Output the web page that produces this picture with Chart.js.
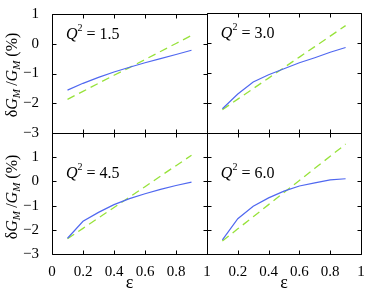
<!DOCTYPE html>
<html>
<head>
<meta charset="utf-8">
<script src="https://cdn.jsdelivr.net/npm/chart.js@4.4.1/dist/chart.umd.min.js"></script>
<style>
  body { margin: 0; background: #fff; }
  #wrap { position: relative; width: 374px; height: 294px; overflow: hidden; }
  #wrap canvas { position: absolute; left: 0; top: 0; }
  .ytitle {
    position: absolute; left: 12px; width: 130px; height: 20px; margin-left: -65px; margin-top: -10px;
    transform: rotate(-90deg); text-align: center; white-space: nowrap;
    font: 16px "Liberation Serif", serif; line-height: 20px; color: #000;
  }
  .ytitle sub { font-size: 11px; font-style: italic; vertical-align: -3px; line-height: 0; }
</style>
</head>
<body>
<div id="wrap">
  <canvas id="c1" width="374" height="294"></canvas>
  <canvas id="c2" width="374" height="294"></canvas>
  <canvas id="c3" width="374" height="294"></canvas>
  <canvas id="c4" width="374" height="294"></canvas>
  <div class="ytitle" style="top:75px">δ<i>G</i><sub>M</sub>&thinsp;/<i>G</i><sub>M</sub> (%)</div>
  <div class="ytitle" style="top:197px">δ<i>G</i><sub>M</sub>&thinsp;/<i>G</i><sub>M</sub> (%)</div>
</div>
<script>
// epsilon values where the curves are sampled
const eps = [0.1, 0.2, 0.3, 0.4, 0.5, 0.6, 0.7, 0.8, 0.9];
const q2Labels = ["1.5", "3.0", "4.5", "6.0"];

// solid blue curves
const blueQ15 = [-1.56, -1.33, -1.13, -0.95, -0.79, -0.64, -0.50, -0.36, -0.22];
const blueQ30 = [-2.19, -1.70, -1.30, -1.06, -0.86, -0.66, -0.49, -0.31, -0.15];
const blueQ45 = [-2.35, -1.65, -1.28, -0.96, -0.71, -0.51, -0.33, -0.17, -0.03];
const blueQ60 = [-2.42, -1.54, -1.03, -0.68, -0.40, -0.19, -0.06, 0.06, 0.11];

// dashed green lines
const greenQ15 = [-1.87, -1.60, -1.33, -1.06, -0.80, -0.53, -0.26, 0.01, 0.28];
const greenQ30 = [-2.22, -1.87, -1.52, -1.17, -0.82, -0.47, -0.12, 0.23, 0.58];
const greenQ45 = [-2.37, -1.94, -1.51, -1.08, -0.65, -0.22, 0.22, 0.65, 1.08];
const greenQ60 = [-2.46, -1.96, -1.46, -0.96, -0.46, 0.04, 0.54, 1.04, 1.54];

// ticks
const epsTicks = [0, 0.2, 0.4, 0.6, 0.8, 1];
const yTicksTop = [-3, -2, -1, 0, 1];
const yTicksBottom = [-3, -2, -1, 0, 1, 2];

const FONT = "'Liberation Serif', 'Times New Roman', serif";
const BLUE = "#5068f0";
const GREEN = "#97e23a";

const fmt = v => String(Math.round(v * 10) / 10).replace("-", "\u2212");

const framePlugin = {
  id: "frame",
  afterDraw(chart, args, o) {
    const { ctx, chartArea: a, scales } = chart;
    ctx.save();
    ctx.setLineDash([]);
    ctx.strokeStyle = "#000000";
    ctx.lineWidth = 1;
    const L = Math.round(a.left) + 0.5, R = Math.round(a.right) + 0.5;
    const T = Math.round(a.top) + 0.5, B = Math.round(a.bottom) + 0.5;
    ctx.beginPath();
    ctx.rect(L, T, R - L, B - T);
    epsTicks.forEach(v => {
      const px = Math.round(scales.x.getPixelForValue(v)) + 0.5;
      ctx.moveTo(px, B); ctx.lineTo(px, B - 4);
      ctx.moveTo(px, T); ctx.lineTo(px, T + 4);
    });
    o.yTicks.forEach(v => {
      const py = Math.round(scales.y.getPixelForValue(v)) + 0.5;
      ctx.moveTo(L, py); ctx.lineTo(L + 4, py);
      ctx.moveTo(R, py); ctx.lineTo(R - 4, py);
    });
    ctx.stroke();

    ctx.fillStyle = "#000";
    ctx.textBaseline = "alphabetic";
    ctx.textAlign = "left";

    // Q^2 label
    const x0 = scales.x.getPixelForValue(0.09);
    const yb = scales.y.getPixelForValue(0.33) + 5;
    ctx.font = "italic 16px " + FONT;
    ctx.fillText("Q", x0, yb);
    let x = x0 + ctx.measureText("Q").width;
    ctx.font = "10px " + FONT;
    ctx.fillText("2", x, yb - 8);
    x += ctx.measureText("2").width;
    ctx.font = "16px " + FONT;
    ctx.fillText(" = " + o.q2, x, yb);

    // epsilon axis title
    if (o.epsTitle) {
      ctx.textAlign = "center";
      ctx.font = "18px " + FONT;
      ctx.fillText("ε", (a.left + a.right) / 2, a.bottom + 34);
    }
    ctx.restore();
  }
};

function makePanel(id, blue, green, q2, box, yTicks, showY, showX, hideZeroX) {
  new Chart(document.getElementById(id), {
    type: "line",
    data: {
      datasets: [
        {
          data: eps.map((e, i) => ({ x: e, y: blue[i] })),
          borderColor: BLUE, borderWidth: 1.2, pointRadius: 0, tension: 0
        },
        {
          data: eps.map((e, i) => ({ x: e, y: green[i] })),
          borderColor: GREEN, borderWidth: 1.3, borderDash: [8, 5], pointRadius: 0, tension: 0
        }
      ]
    },
    options: {
      responsive: false,
      animation: false,
      layout: { padding: box },
      plugins: {
        legend: { display: false },
        tooltip: { enabled: false },
        frame: { yTicks: yTicks, q2: q2, epsTitle: showX }
      },
      scales: {
        x: {
          type: "linear", min: 0, max: 1,
          display: showX,
          grid: { display: false },
          border: { display: false },
          afterBuildTicks: s => { s.ticks = epsTicks.map(v => ({ value: v })); },
          afterFit: s => { if (showX) s.height = 40; },
          ticks: {
            font: { family: FONT, size: 15 }, color: "#000", padding: 1, maxRotation: 0, autoSkip: false,
            callback: v => (hideZeroX && v === 0) ? null : fmt(v)
          }
        },
        y: {
          type: "linear", min: yTicks[0], max: yTicks[yTicks.length - 1],
          display: showY,
          grid: { display: false },
          border: { display: false },
          afterBuildTicks: s => { s.ticks = yTicks.map(v => ({ value: v })); },
          afterFit: s => { if (showY) s.width = 52; },
          ticks: {
            font: { family: FONT, size: 15 }, color: "#000", padding: 5, autoSkip: false,
            callback: v => v === 2 ? null : fmt(v)
          }
        }
      }
    },
    plugins: [framePlugin]
  });
}

makePanel("c1", blueQ15, greenQ15, q2Labels[0], { left: 0, top: 13, right: 167, bottom: 161 }, yTicksTop, true, false, false);
makePanel("c2", blueQ30, greenQ30, q2Labels[1], { left: 207, top: 13, right: 13, bottom: 161 }, yTicksTop, false, false, false);
makePanel("c3", blueQ45, greenQ45, q2Labels[2], { left: 0, top: 133, right: 167, bottom: 0 }, yTicksBottom, true, true, false);
makePanel("c4", blueQ60, greenQ60, q2Labels[3], { left: 207, top: 133, right: 13, bottom: 0 }, yTicksBottom, false, true, true);
</script>
</body>
</html>
